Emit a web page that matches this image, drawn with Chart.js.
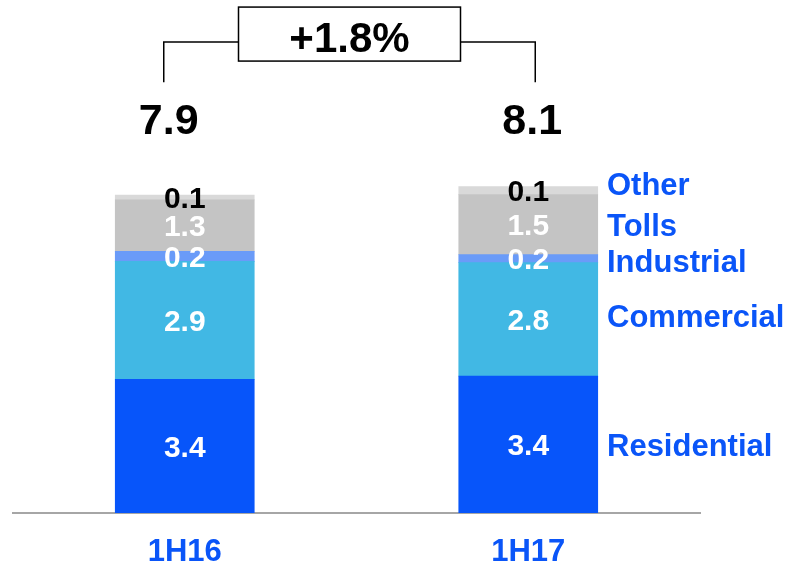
<!DOCTYPE html>
<html>
<head>
<meta charset="utf-8">
<title>Revenue 1H16 vs 1H17</title>
<script src="https://cdn.jsdelivr.net/npm/chart.js@4/dist/chart.umd.min.js"></script>
<style>
    html, body { margin: 0; padding: 0; background: #ffffff; }
    #wrap { width: 792px; height: 568px; }
</style>
</head>
<body>
<div id="wrap"><canvas id="revenueChart" width="792" height="568"></canvas></div>
<script>
// Data
const periods = ['1H16', '1H17'];
const residential = [3.32, 3.40];
const commercial = [2.93, 2.82];
const industrial = [0.25, 0.20];
const tolls = [1.28, 1.49];
const other = [0.12, 0.20];

// Labels as printed on the slide
const residentialText = ['3.4', '3.4'];
const commercialText = ['2.9', '2.8'];
const industrialText = ['0.2', '0.2'];
const tollsText = ['1.3', '1.5'];
const otherText = ['0.1', '0.1'];
const totalText = ['7.9', '8.1'];
const growthText = '+1.8%';

const FONT = "'Liberation Sans', Arial, sans-serif";
const BLUE = '#0a55f8';

const series = [
    { name: 'Residential', data: residential, text: residentialText, color: '#0755fa', labelColor: '#ffffff', nudge: 0 },
    { name: 'Commercial', data: commercial, text: commercialText, color: '#41b8e4', labelColor: '#ffffff', nudge: -3 },
    { name: 'Industrial', data: industrial, text: industrialText, color: '#6a9bf8', labelColor: '#ffffff', nudge: 2 },
    { name: 'Tolls', data: tolls, text: tollsText, color: '#c4c4c4', labelColor: '#ffffff', nudge: 0 },
    { name: 'Other', data: other, text: otherText, color: '#d9d9d9', labelColor: '#000000', nudge: -7 }
];

// draw text with its cap height centred on y
function capText(ctx, text, x, y, size, color, align) {
    ctx.font = `bold ${size}px ${FONT}`;
    ctx.fillStyle = color;
    ctx.textAlign = align || 'center';
    ctx.textBaseline = 'alphabetic';
    ctx.fillText(text, x, y + size * 0.358);
}

// Segment values, series names on the right, totals and growth bracket
const annotations = {
    id: 'annotations',
    afterDatasetsDraw(chart) {
        const ctx = chart.ctx;
        const yScale = chart.scales.y;
        ctx.save();

        series.forEach((s, di) => {
            const meta = chart.getDatasetMeta(di);
            meta.data.forEach((bar, i) => {
                const mid = (bar.y + bar.base) / 2;
                capText(ctx, s.text[i], bar.x, mid, 30, s.labelColor);
            });
            // series name next to the last bar
            const last = meta.data[meta.data.length - 1];
            const mid = (last.y + last.base) / 2 + s.nudge;
            capText(ctx, s.name, 607, mid, 31, BLUE, 'left');
        });

        // totals above the bars
        const top = chart.getDatasetMeta(series.length - 1).data;
        const totalY = yScale.getPixelForValue(9.8);
        const dx = [-16, 4];
        top.forEach((bar, i) => {
            capText(ctx, totalText[i], bar.x + dx[i], totalY, 43, '#000000');
        });

        // growth bracket
        const xl = top[0].x - 21;
        const xr = top[1].x + 7;
        const lineY = yScale.getPixelForValue(11.7);
        const legY = yScale.getPixelForValue(10.7);
        const boxW = 222, boxH = 54;
        const cx = (xl + xr) / 2;
        const boxTop = lineY - 35;

        ctx.strokeStyle = '#000000';
        ctx.lineWidth = 1.5;
        ctx.beginPath();
        ctx.moveTo(xl, legY);
        ctx.lineTo(xl, lineY);
        ctx.lineTo(cx - boxW / 2, lineY);
        ctx.moveTo(cx + boxW / 2, lineY);
        ctx.lineTo(xr, lineY);
        ctx.lineTo(xr, legY);
        ctx.stroke();
        ctx.strokeRect(cx - boxW / 2, boxTop, boxW, boxH);
        capText(ctx, growthText, cx, boxTop + 30, 42, '#000000');

        ctx.restore();
    }
};

new Chart(document.getElementById('revenueChart').getContext('2d'), {
    type: 'bar',
    data: {
        labels: periods,
        datasets: series.map(s => ({
            label: s.name,
            data: s.data,
            backgroundColor: s.color,
            borderWidth: 0,
            barThickness: 139
        }))
    },
    options: {
        responsive: false,
        animation: false,
        layout: {
            padding: { left: 13, right: 92, top: 30, bottom: -24 }
        },
        plugins: {
            legend: { display: false },
            tooltip: { enabled: false }
        },
        scales: {
            x: {
                stacked: true,
                grid: { display: false, drawTicks: false },
                border: { display: true, color: '#a6a6a6', width: 2 },
                ticks: {
                    color: BLUE,
                    padding: 24,
                    font: { family: FONT, size: 31, weight: 'bold', lineHeight: 1 }
                }
            },
            y: {
                stacked: true,
                display: false,
                min: 0,
                max: 12
            }
        }
    },
    plugins: [annotations]
});
</script>
</body>
</html>
